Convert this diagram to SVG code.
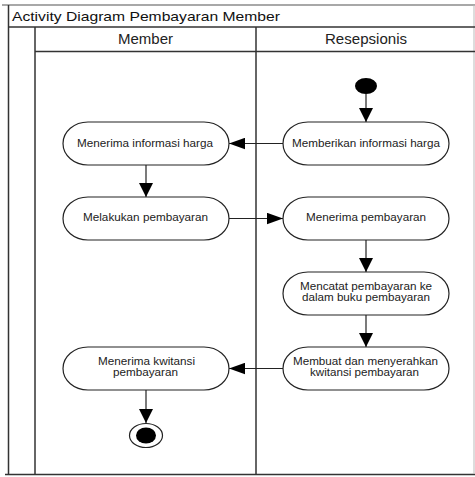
<svg xmlns="http://www.w3.org/2000/svg" width="475" height="477" viewBox="0 0 475 477">
<style>
.frame{stroke:#333;stroke-width:1.5;fill:none}
.node{fill:#fff;stroke:#222;stroke-width:1.2}
.t{font-family:"Liberation Sans",Arial,sans-serif;font-size:10px;fill:#222}
.h{font-family:"Liberation Sans",Arial,sans-serif;font-size:14px;fill:#222}
.ttl{font-family:"Liberation Sans",Arial,sans-serif;font-size:13px;fill:#111}
.c{stroke:#222;stroke-width:1.2;fill:none}
</style>
<defs>
<marker id="aV" markerUnits="userSpaceOnUse" markerWidth="14" markerHeight="14" refX="12" refY="6" orient="auto" viewBox="0 0 12 12"><path d="M0,0 L12,6 L0,12 Z" fill="#000"/></marker>
<marker id="aH" markerUnits="userSpaceOnUse" markerWidth="16" markerHeight="12" refX="14" refY="5" orient="auto" viewBox="0 0 14 10"><path d="M0,0 L14,5 L0,10 Z" fill="#000"/></marker>
</defs>
<rect width="475" height="477" fill="#fff"/>
<g id="frame">
<line x1="2" y1="5" x2="475" y2="5" stroke="#a8a8a8" stroke-width="2"/>
<line class="frame" x1="8.5" y1="5" x2="8.5" y2="474.5"/>
<line class="frame" x1="5" y1="474.5" x2="475" y2="474.5"/>
<line x1="474" y1="5" x2="474" y2="474" stroke="#bbb" stroke-width="1"/>
<line class="frame" x1="8.5" y1="27" x2="475" y2="27"/>
<line class="frame" x1="35" y1="27" x2="35" y2="474.5"/>
<line class="frame" x1="256" y1="27" x2="256" y2="474.5"/>
<line class="frame" x1="35" y1="51.5" x2="475" y2="51.5"/>
<text class="ttl" x="12" y="21" textLength="268" lengthAdjust="spacingAndGlyphs">Activity Diagram Pembayaran Member</text>
<text class="h" x="118" y="43.5" textLength="55" lengthAdjust="spacingAndGlyphs">Member</text>
<text class="h" x="325" y="43.5" textLength="82" lengthAdjust="spacingAndGlyphs">Resepsionis</text>
</g>
<g id="connectors">
<line class="c" x1="366" y1="94" x2="366" y2="122" marker-end="url(#aV)"/>
<line class="c" x1="283" y1="143.5" x2="229" y2="143.5" marker-end="url(#aH)"/>
<line class="c" x1="146" y1="165" x2="146" y2="197" marker-end="url(#aV)"/>
<line class="c" x1="229" y1="218.5" x2="283" y2="218.5" marker-end="url(#aH)"/>
<line class="c" x1="366" y1="240" x2="366" y2="272" marker-end="url(#aV)"/>
<line class="c" x1="366" y1="315" x2="366" y2="347" marker-end="url(#aV)"/>
<line class="c" x1="283" y1="368.5" x2="229" y2="368.5" marker-end="url(#aH)"/>
<line class="c" x1="146" y1="390" x2="146" y2="423" marker-end="url(#aV)"/>
</g>
<g id="start"><ellipse cx="366" cy="86" rx="11" ry="8" fill="#000"/></g>
<g id="n1"><rect class="node" x="63" y="122" width="166" height="43" rx="25" ry="21.5"/><text class="t" x="77" y="147" textLength="136" lengthAdjust="spacingAndGlyphs">Menerima informasi harga</text></g>
<g id="n2"><rect class="node" x="283" y="122" width="166" height="43" rx="25" ry="21.5"/><text class="t" x="292" y="147" textLength="148" lengthAdjust="spacingAndGlyphs">Memberikan informasi harga</text></g>
<g id="n3"><rect class="node" x="63" y="197" width="166" height="43" rx="25" ry="21.5"/><text class="t" x="83" y="221" textLength="125" lengthAdjust="spacingAndGlyphs">Melakukan pembayaran</text></g>
<g id="n4"><rect class="node" x="283" y="197" width="166" height="43" rx="25" ry="21.5"/><text class="t" x="306" y="221" textLength="120" lengthAdjust="spacingAndGlyphs">Menerima pembayaran</text></g>
<g id="n5"><rect class="node" x="283" y="272" width="166" height="43" rx="25" ry="21.5"/><text class="t" x="300" y="289.5" textLength="132" lengthAdjust="spacingAndGlyphs">Mencatat pembayaran ke</text><text class="t" x="302" y="300.8" textLength="128" lengthAdjust="spacingAndGlyphs">dalam buku pembayaran</text></g>
<g id="n6"><rect class="node" x="283" y="347" width="166" height="43" rx="25" ry="21.5"/><text class="t" x="293" y="365" textLength="145" lengthAdjust="spacingAndGlyphs">Membuat dan menyerahkan</text><text class="t" x="310" y="376" textLength="109" lengthAdjust="spacingAndGlyphs">kwitansi pembayaran</text></g>
<g id="n7"><rect class="node" x="63" y="347" width="166" height="43" rx="25" ry="21.5"/><text class="t" x="98" y="365" textLength="97" lengthAdjust="spacingAndGlyphs">Menerima kwitansi</text><text class="t" x="113" y="376" textLength="65" lengthAdjust="spacingAndGlyphs">pembayaran</text></g>
<g id="end"><ellipse cx="146" cy="435.5" rx="16.5" ry="12" fill="#fff" stroke="#222" stroke-width="1.2"/><ellipse cx="146" cy="435.5" rx="10" ry="8" fill="#000"/></g>
</svg>
